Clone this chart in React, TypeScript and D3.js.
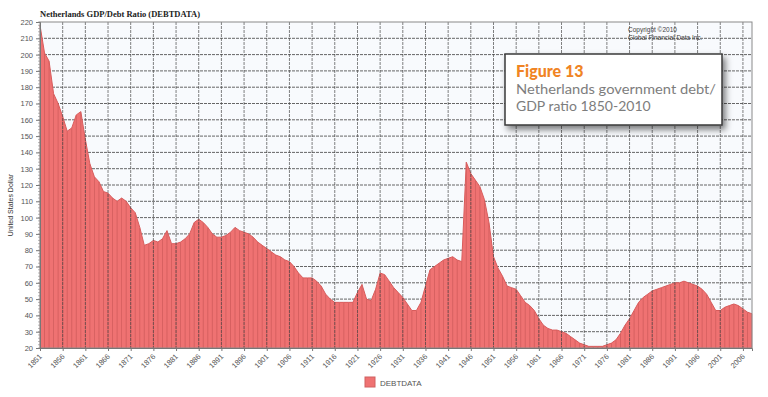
import React, { useEffect, useRef } from 'react';
import * as d3 from 'd3';

// Netherlands debt / GDP ratio, one value per year starting at firstYear
const firstYear = 1851;
const debtRatio = [
  218, 201, 196, 176, 170, 162, 153, 155, 163, 165, // 1851-1860
  148, 133, 125, 122, 116, 115, 112, 110, 112, 110, // 1861-1870
  106, 103, 94, 83, 84, 86, 85, 87, 92, 84, // 1871-1880
  84, 85, 87, 90, 97, 99, 97, 94, 90, 88, // 1881-1890
  88, 89, 91, 94, 92, 91, 90, 88, 85, 83, // 1891-1900
  81, 79, 77, 76, 74, 73, 70, 66, 63, 63, // 1901-1910
  63, 61, 58, 53, 50, 48, 48, 48, 48, 48, // 1911-1920
  54, 59, 50, 49, 56, 66, 65, 61, 57, 54, // 1921-1930
  51, 47, 43, 43, 48, 58, 68, 70, 72, 74, // 1931-1940
  75, 76, 74, 73, 134, 127, 123, 119, 111, 97, // 1941-1950
  76, 69, 64, 58, 57, 56, 52, 48, 46, 43, // 1951-1960
  38, 34, 32, 31, 31, 30, 29, 27, 25, 23, // 1961-1970
  22, 21, 21, 21, 21, 22, 23, 25, 29, 34, // 1971-1980
  38, 43, 48, 51, 53, 55, 56, 57, 58, 59, // 1981-1990
  60, 60, 61, 60, 59, 58, 56, 53, 48, 43, // 1991-2000
  43, 45, 46, 47, 46, 44, 42, 41, // 2001-2008
];
const xTickYears = [
  1851, 1856, 1861, 1866, 1871, 1876, 1881, 1886, 1891, 1896, 1901, 1906,
  1911, 1916, 1921, 1926, 1931, 1936, 1941, 1946, 1951, 1956, 1961, 1966,
  1971, 1976, 1981, 1986, 1991, 1996, 2001, 2006,
];
const yTicks = [20, 30, 40, 50, 60, 70, 80, 90, 100, 110, 120, 130, 140, 150, 160, 170, 180, 190, 200, 210, 220];
const chartTitle = 'Netherlands GDP/Debt Ratio (DEBTDATA)';
const yTitle = 'United States Dollar';
const seriesName = 'DEBTDATA';

const App = () => {
  const svgRef = useRef<SVGSVGElement>(null);

  useEffect(() => {
    if (!svgRef.current) return;
    const svg = d3.select(svgRef.current);
    svg.selectAll('*').remove();

    const width = 768;
    const height = 397;
    const m = { top: 22, right: 16, bottom: 49, left: 40 };
    svg.attr('width', width).attr('height', height);

    const data = debtRatio.map((v, i) => ({ year: firstYear + i, value: v }));
    const lastYear = firstYear + debtRatio.length - 1;

    const x = d3.scaleLinear().domain([firstYear, lastYear]).range([m.left, width - m.right]);
    const y = d3.scaleLinear().domain([20, 220]).range([height - m.bottom, m.top]);

    const defs = svg.append('defs');
    const f = defs.append('filter').attr('id', 'shadow').attr('x', '-10%').attr('y', '-10%').attr('width', '130%').attr('height', '140%');
    f.append('feDropShadow').attr('dx', 3).attr('dy', 4).attr('stdDeviation', 3).attr('flood-color', '#000').attr('flood-opacity', 0.5);

    // plot background
    svg.append('rect')
      .attr('x', m.left).attr('y', m.top)
      .attr('width', width - m.left - m.right).attr('height', height - m.top - m.bottom)
      .attr('fill', '#f8fafd');

    // horizontal grid
    svg.append('g').selectAll('line').data(yTicks.slice(1, -1)).enter().append('line')
      .attr('x1', m.left).attr('x2', width - m.right)
      .attr('y1', d => y(d)).attr('y2', d => y(d))
      .attr('stroke', '#555').attr('stroke-width', 0.9).attr('stroke-dasharray', '3,1');

    // area
    const area = d3.area<{ year: number; value: number }>()
      .x(d => x(d.year)).y0(y(20)).y1(d => y(d.value));
    svg.append('path').datum(data).attr('d', area).attr('fill', '#ef7272');

    // yearly stripes inside the fill
    svg.append('g').selectAll('line').data(data).enter().append('line')
      .attr('x1', d => x(d.year)).attr('x2', d => x(d.year))
      .attr('y1', y(20)).attr('y2', d => y(d.value))
      .attr('stroke', '#a94040').attr('stroke-width', 0.7).attr('opacity', 0.5);

    const line = d3.line<{ year: number; value: number }>().x(d => x(d.year)).y(d => y(d.value));
    svg.append('path').datum(data).attr('d', line).attr('fill', 'none')
      .attr('stroke', '#d85c5c').attr('stroke-width', 1);

    // vertical grid
    svg.append('g').selectAll('line').data(xTickYears.slice(1)).enter().append('line')
      .attr('x1', d => x(d)).attr('x2', d => x(d))
      .attr('y1', m.top).attr('y2', height - m.bottom)
      .attr('stroke', '#444').attr('stroke-width', 0.9).attr('stroke-dasharray', '3,1').attr('opacity', 0.75);

    // frame
    svg.append('rect')
      .attr('x', m.left).attr('y', m.top)
      .attr('width', width - m.left - m.right).attr('height', height - m.top - m.bottom)
      .attr('fill', 'none').attr('stroke', '#8a8a8a').attr('stroke-width', 1);

    // y axis
    const yAxis = d3.axisLeft(y).tickValues(yTicks).tickSize(4).tickPadding(3).tickFormat(d3.format('d'));
    const ya = svg.append('g').attr('transform', `translate(${m.left},0)`).call(yAxis);
    ya.select('.domain').attr('stroke', '#777');
    ya.selectAll('line').attr('stroke', '#777');
    ya.selectAll('text').attr('font-family', 'Liberation Sans, Arial, sans-serif').attr('font-size', 7.5).attr('fill', '#555');
    const minorY = d3.range(20, 221, 2);
    svg.append('g').selectAll('line').data(minorY).enter().append('line')
      .attr('x1', m.left - 2).attr('x2', m.left)
      .attr('y1', d => y(d)).attr('y2', d => y(d))
      .attr('stroke', '#888').attr('stroke-width', 0.6);

    // x axis
    const xAxis = d3.axisBottom(x).tickValues(xTickYears).tickSize(3).tickFormat(d3.format('d'));
    const xa = svg.append('g').attr('transform', `translate(0,${height - m.bottom})`).call(xAxis);
    xa.select('.domain').attr('stroke', '#777');
    xa.selectAll('line').attr('stroke', '#777');
    xa.selectAll('text')
      .attr('font-family', 'Liberation Sans, Arial, sans-serif').attr('font-size', 7.5).attr('fill', '#555')
      .attr('text-anchor', 'end').attr('dy', null).attr('y', 0)
      .attr('transform', 'translate(2,9) rotate(-45)');

    // titles
    svg.append('text').attr('x', m.left).attr('y', 17).text(chartTitle)
      .attr('font-family', 'Liberation Serif, Times New Roman, serif').attr('font-weight', 'bold')
      .attr('font-size', 8.5).attr('fill', '#222');
    svg.append('text').text(yTitle)
      .attr('transform', `translate(13,${(m.top + height - m.bottom) / 2 + 20}) rotate(-90)`)
      .attr('text-anchor', 'middle')
      .attr('font-family', 'Liberation Sans, Arial, sans-serif').attr('font-size', 7).attr('fill', '#333');

    svg.append('text').attr('x', 628).attr('y', 32).text('Copyright \u00a92010')
      .attr('font-family', 'Liberation Sans, Arial, sans-serif').attr('font-size', 6.5).attr('fill', '#444');
    svg.append('text').attr('x', 628).attr('y', 40).text('Global Financial Data Inc.')
      .attr('font-family', 'Liberation Sans, Arial, sans-serif').attr('font-size', 6.5).attr('fill', '#444');

    // legend
    const lg = svg.append('g').attr('transform', 'translate(365,377)');
    lg.append('rect').attr('width', 10).attr('height', 10).attr('fill', '#ef7272').attr('stroke', '#d06060');
    lg.append('text').attr('x', 15).attr('y', 8.5).text(seriesName)
      .attr('font-family', 'Liberation Sans, Arial, sans-serif').attr('font-size', 8).attr('fill', '#555');

    // figure caption box
    const box = svg.append('g');
    box.append('rect').attr('x', 505).attr('y', 54).attr('width', 217).attr('height', 71)
      .attr('fill', '#fff').attr('stroke', '#3a3a3a').attr('stroke-width', 1.5).attr('filter', 'url(#shadow)');
    box.append('text').attr('x', 516).attr('y', 77).text('Figure 13')
      .attr('font-family', 'Lato, Open Sans, sans-serif').attr('font-weight', 900)
      .attr('font-size', 16).attr('fill', '#f08424');
    box.append('text').attr('x', 516).attr('y', 94).text('Netherlands government debt/')
      .attr('font-family', 'Lato, Open Sans, sans-serif').attr('font-size', 14).attr('fill', '#7d7d7d')
      .attr('textLength', 200).attr('lengthAdjust', 'spacingAndGlyphs');
    box.append('text').attr('x', 516).attr('y', 111).text('GDP ratio 1850-2010')
      .attr('font-family', 'Lato, Open Sans, sans-serif').attr('font-size', 14).attr('fill', '#7d7d7d');
  }, []);

  return (
    <div>
      <svg ref={svgRef} style={{ position: 'absolute', left: 0, top: 0 }}></svg>
    </div>
  );
};

export default App;
